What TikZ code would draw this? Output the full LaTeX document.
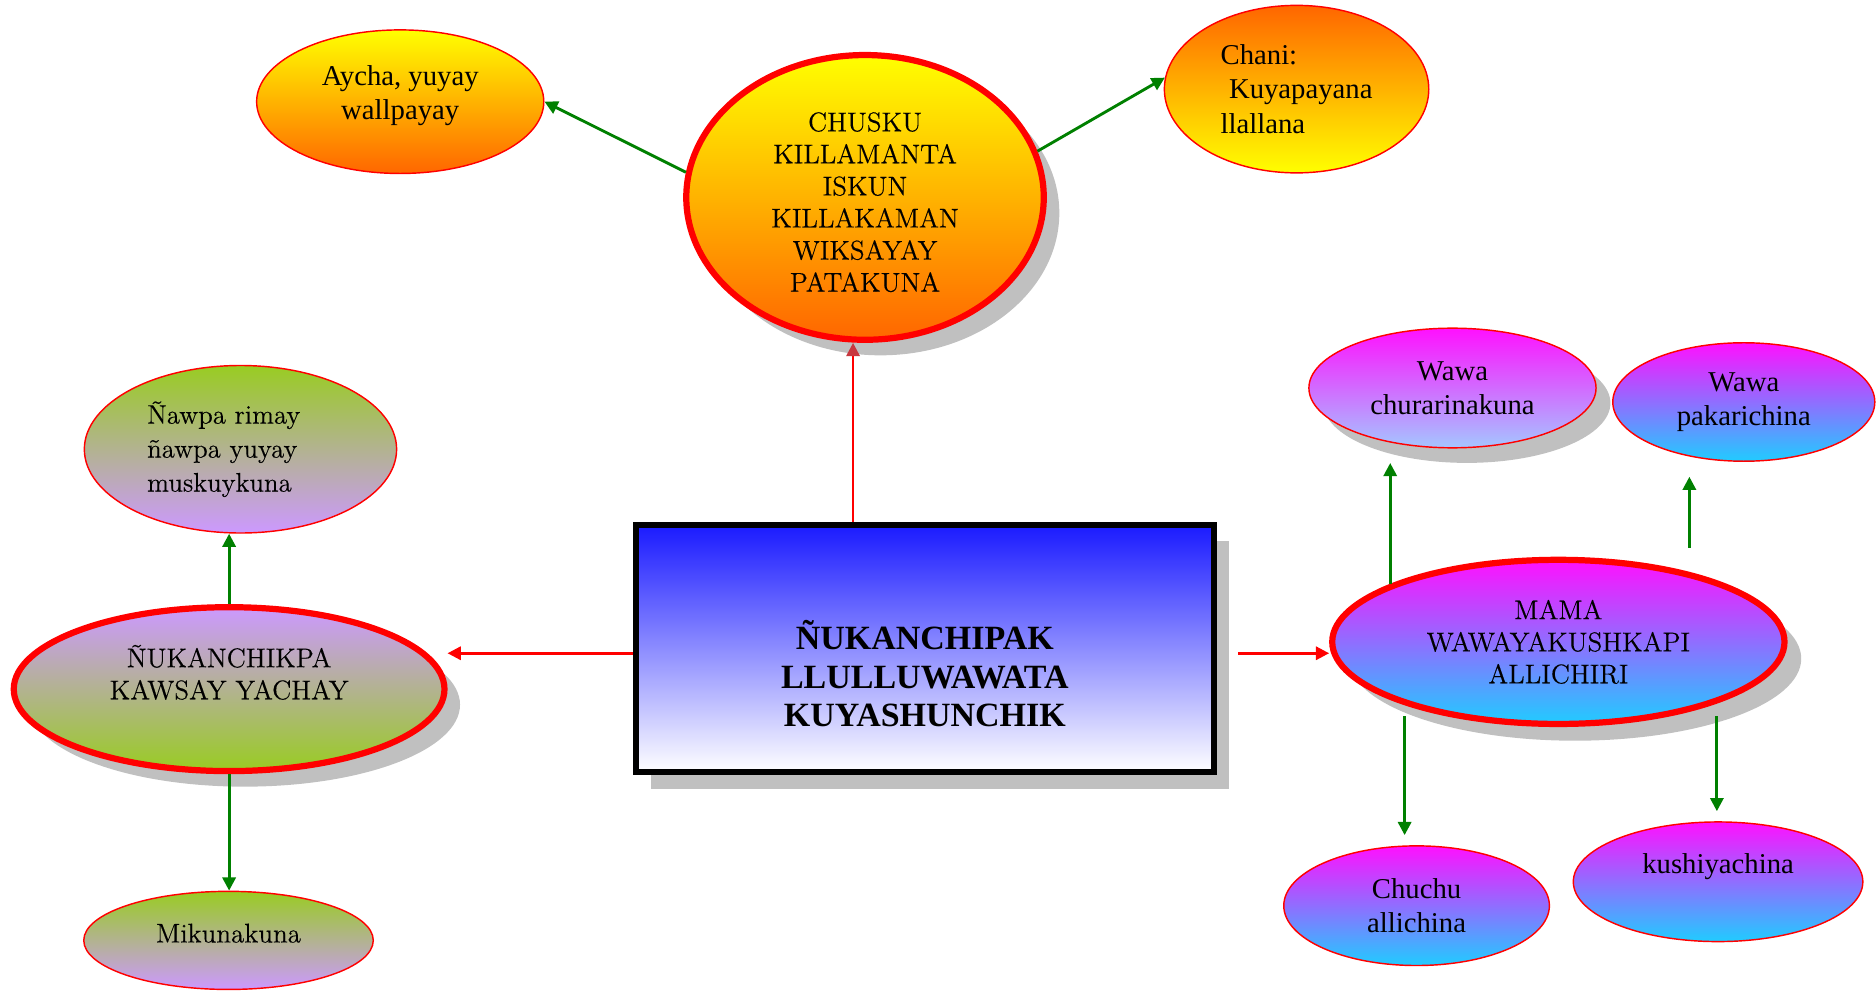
\documentclass[tikz,border=0pt]{standalone}
\usepackage{fontspec}
\newfontfamily\tnr{Liberation Serif}
\newfontfamily\lmdark{Latin Modern Roman}[FakeBold=0.35]
\usetikzlibrary{shapes.geometric,shadows,arrows.meta}
\definecolor{yel}{HTML}{FFFF00}
\definecolor{ora}{HTML}{FF6600}
\definecolor{blu}{HTML}{1A1AFF}
\definecolor{pur}{HTML}{CC99FF}
\definecolor{grn}{HTML}{99CC22}
\definecolor{mag}{HTML}{FF10FF}
\definecolor{cya}{HTML}{20CCFF}
\definecolor{lbl}{HTML}{A4C6FF}
\definecolor{shgray}{HTML}{C0C0C0}
\definecolor{arrgreen}{HTML}{008000}
\definecolor{tipred}{HTML}{C8373F}
\begin{document}
\begin{tikzpicture}[x=0.5pt,y=0.5pt,
  thinell/.style={ellipse, draw=red, line width=0.6pt, inner sep=0pt},
  thickell/.style={ellipse, draw=red, line width=2.6pt, inner sep=0pt},
  shad/.style={drop shadow={shadow xshift=#1, shadow yshift=-#1, fill=shgray, opacity=1}},
  cent/.style={font=\lmdark\fontsize{11.3}{13.4}\selectfont, align=center},
  centl/.style={font=\lmdark\fontsize{11.2}{14.2}\selectfont, align=left},
  tms/.style={font=\tnr\fontsize{12}{14}\selectfont, align=center},
  tmsl/.style={font=\tnr\fontsize{12}{14.3}\selectfont, align=left},
  boxtxt/.style={font=\tnr\bfseries\fontsize{14.2}{16}\selectfont, align=center},
  garrow/.style={draw=arrgreen, line width=1.2pt, -{Triangle[length=5.5pt,width=5.5pt]}},
  rarrow/.style={draw=red, line width=1.1pt, -{Triangle[length=5.5pt,width=5.5pt]}}
]
\useasboundingbox (0,0) rectangle (1568,-827.5);

% top row
\node[thickell, shad=6.5pt, top color=yel, bottom color=ora,
      minimum width=149.4pt, minimum height=119pt,
      label={[cent, yshift=-2pt]center:{CHUSKU\\KILLAMANTA\\ISKUN\\KILLAKAMAN\\WIKSAYAY\\PATAKUNA}}]
      (chu) at (723,-165) {};
\node[thinell, top color=yel, bottom color=ora, minimum width=120pt, minimum height=60pt,
      label={[tms, yshift=2.5pt]center:{Aycha, yuyay\\wallpayay}}]
      (aycha) at (334.5,-85) {};
\node[thinell, top color=ora, bottom color=yel, minimum width=110.5pt, minimum height=70pt, tmsl]
      (chani) at (1083.7,-74.5) {Chani:\\\hspace*{3.5pt}Kuyapayana\\llallana};

% centre box
\node[rectangle, draw=black, line width=2.5pt, top color=blu, bottom color=white,
      drop shadow={shadow xshift=6.5pt, shadow yshift=-7pt, fill=shgray, opacity=1},
      minimum width=241.5pt, minimum height=103.5pt, inner sep=0pt,
      label={[boxtxt, yshift=-10.5pt]center:{ÑUKANCHIPAK\\LLULLUWAWATA\\KUYASHUNCHIK}}]
      (box) at (773,-542) {};

% left branch
\node[thickell, shad=6.5pt, top color=pur, bottom color=grn,
      minimum width=180pt, minimum height=68.5pt,
      label={[cent, yshift=7pt]center:{ÑUKANCHIKPA\\KAWSAY YACHAY}}]
      (kaw) at (191.5,-576) {};
\node[thinell, top color=grn, bottom color=pur, minimum width=130.5pt, minimum height=70pt,
      label={[centl, xshift=-7pt]center:{Ñawpa rimay\\ñawpa yuyay\\muskuykuna}}]
      (naw) at (201,-375.5) {};
\node[thinell, top color=grn, bottom color=pur, minimum width=121pt, minimum height=41pt,
      label={[cent, yshift=3pt]center:{Mikunakuna}}]
      (miku) at (191,-786) {};

% right branch
\node[thickell, drop shadow={shadow xshift=7pt, shadow yshift=-7pt, fill=shgray, opacity=1},
      top color=mag, bottom color=cya, minimum width=189pt, minimum height=68.6pt, cent]
      (mama) at (1302.5,-536.5) {MAMA\\WAWAYAKUSHKAPI\\ALLICHIRI};
\node[thinell, drop shadow={shadow xshift=6pt, shadow yshift=-6.3pt, fill=shgray, opacity=1},
      top color=mag, bottom color=lbl, minimum width=120pt, minimum height=50pt, tms]
      (chur) at (1214,-324.3) {Wawa\\churarinakuna};
\node[thinell, top color=mag, bottom color=cya, minimum width=109.5pt, minimum height=49.5pt, tms]
      (pak) at (1457.5,-336) {Wawa\\pakarichina};
\node[thinell, top color=mag, bottom color=cya, minimum width=111pt, minimum height=50pt, tms]
      (chuchu) at (1184,-757) {Chuchu\\allichina};
\node[thinell, top color=mag, bottom color=cya, minimum width=121pt, minimum height=50pt,
      label={[tms, yshift=6.25pt]center:{kushiyachina}}]
      (kush) at (1436,-737) {};

% free ends
\coordinate (c1) at (1160,-387);
\coordinate (c2a) at (1412,-458);
\coordinate (c2b) at (1412,-398.5);
\coordinate (c3a) at (1174,-598.5);
\coordinate (c3b) at (1174,-698);
\coordinate (c4a) at (1435,-598.5);
\coordinate (c4b) at (1435,-678);

% connectors
\draw[rarrow] ([yshift=-2pt]box.west) -- ([yshift=15pt]kaw.east);
\draw[rarrow] ([xshift=9pt,yshift=-2pt]box.east) -- ([yshift=-4.75pt]mama.west);
\draw[draw=red, line width=1.1pt, -{Triangle[length=5.5pt,width=5.5pt,color=tipred]}]
      ([xshift=-30pt]box.north) -- ([xshift=-5pt]chu.south);
\draw[garrow] (chu.172) -- (aycha.east);
\draw[garrow] (chu.15) -- (chani.175);
\draw[garrow] (kaw.north) -- (kaw.north |- naw.south);
\draw[garrow] (kaw.south) -- (kaw.south |- miku.north);
\draw[garrow] (mama.161.7) -- (mama.161.7 |- c1);
\draw[garrow] (c2a) -- (c2b);
\draw[garrow] (c3a) -- (c3b);
\draw[garrow] (c4a) -- (c4b);
\end{tikzpicture}
\end{document}
